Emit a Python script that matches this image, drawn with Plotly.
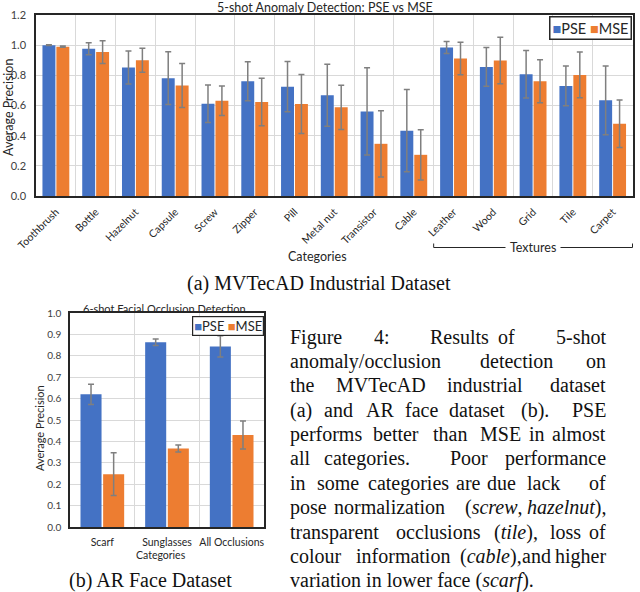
import plotly.graph_objects as go

# ---------------- data ----------------
categories_a = ["Toothbrush", "Bottle", "Hazelnut", "Capsule", "Screw", "Zipper", "Pill",
                "Metal nut", "Transistor", "Cable", "Leather", "Wood", "Grid", "Tile", "Carpet"]
pse_a = [1.000, 0.976, 0.852, 0.781, 0.612, 0.761, 0.725, 0.668, 0.561, 0.433, 0.985, 0.856, 0.807, 0.730, 0.634]
pse_a_err = [0.002, 0.040, 0.110, 0.175, 0.124, 0.129, 0.167, 0.205, 0.290, 0.273, 0.040, 0.128, 0.157, 0.132, 0.228]
mse_a = [0.990, 0.954, 0.900, 0.732, 0.632, 0.623, 0.610, 0.588, 0.346, 0.273, 0.912, 0.898, 0.761, 0.803, 0.479]
mse_a_err = [0.004, 0.075, 0.080, 0.146, 0.098, 0.157, 0.195, 0.147, 0.220, 0.167, 0.108, 0.154, 0.142, 0.152, 0.157]

categories_b = ["Scarf", "Sunglasses", "All Occlusions"]
pse_b = [0.620, 0.863, 0.844]
pse_b_err = [0.047, 0.015, 0.050]
mse_b = [0.247, 0.367, 0.430]
mse_b_err = [0.100, 0.016, 0.065]

yticks_a = [0.0, 0.2, 0.4, 0.6, 0.8, 1.0, 1.2]
yticks_b = [0.0, 0.1, 0.2, 0.3, 0.4, 0.5, 0.6, 0.7, 0.8, 0.9, 1.0]

# ---------------- style ----------------
W, H = 640, 592
BLUE = "#4472C4"
ORANGE = "#ED7D31"
ERR = "#7F7F7F"
GRID = "#D9D9D9"
FRAME = "#262626"
TXT = "#262626"
SANS = "Lato, 'Open Sans', sans-serif"
SERIF = "'Liberation Serif', 'DejaVu Serif', serif"
CAP_SIZE = 20


def fx(px):
    return px / W


def fy(py):
    return 1 - py / H


fig = go.Figure()

def add_pair(cats, pse, pse_err, mse, mse_err, xa, ya, cap):
    err_style = dict(type="data", color=ERR, thickness=1.5, width=cap)
    fig.add_trace(go.Bar(x=cats, y=pse, name="PSE", marker_color=BLUE,
                         error_y=dict(array=pse_err, **err_style),
                         xaxis=xa, yaxis=ya, showlegend=False))
    fig.add_trace(go.Bar(x=cats, y=mse, name="MSE", marker_color=ORANGE,
                         error_y=dict(array=mse_err, **err_style),
                         xaxis=xa, yaxis=ya, showlegend=False))

add_pair(categories_a, pse_a, pse_a_err, mse_a, mse_a_err, "x", "y", 3)
add_pair(categories_b, pse_b, pse_b_err, mse_b, mse_b_err, "x2", "y2", 3)

common_x = dict(type="category", tickson="boundaries", showgrid=True, gridcolor=GRID,
                gridwidth=1, ticks="", showline=True, linecolor=FRAME, linewidth=1.5,
                mirror=True, zeroline=False, automargin=False)
common_y = dict(showgrid=True, gridcolor=GRID, gridwidth=1, ticks="", showline=True,
                linecolor=FRAME, linewidth=1.5, mirror=True, zeroline=False,
                tickformat=".1f", automargin=False)

fig.update_layout(
    template="none",
    width=W, height=H, margin=dict(l=0, r=0, t=0, b=0, autoexpand=False),
    paper_bgcolor="white", plot_bgcolor="white",
    barmode="group", bargap=0.30, bargroupgap=0.07,
    font=dict(family=SANS, color=TXT),
    xaxis=dict(domain=[fx(36), fx(633)], anchor="y", tickangle=-45,
               tickfont=dict(size=10.5, color=TXT), ticklabelstandoff=4, **common_x),
    yaxis=dict(domain=[fy(196), fy(15)], anchor="x", range=[0, 1.2], tickvals=yticks_a,
               tickfont=dict(size=11, color="#404040"), ticklabelstandoff=6, **common_y),
    xaxis2=dict(domain=[fx(70), fx(264)], anchor="y2", tickangle=0,
                tickfont=dict(size=10.5, color=TXT), ticklabelstandoff=5, **common_x),
    yaxis2=dict(domain=[fy(527), fy(313)], anchor="x2", range=[0, 1.0], tickvals=yticks_b,
                tickfont=dict(size=10, color="#404040"), ticklabelstandoff=5, **common_y),
)

ann = []

def label(text, x, y, size, family=SANS, angle=0, **kw):
    d = dict(text=text, x=fx(x), y=fy(y), xref="paper", yref="paper", showarrow=False,
             font=dict(size=size, family=family, color=kw.pop("color", TXT)),
             textangle=angle, xanchor=kw.pop("xanchor", "center"),
             yanchor=kw.pop("yanchor", "middle"))
    d.update(kw)
    ann.append(d)

# chart titles and axis titles
label("5-shot Anomaly Detection: PSE vs MSE", 325, 7, 12.5)
label("Average Precision", 8, 108, 12.5, angle=-90)
label("Categories", 317, 256, 12.5)
label("6-shot Facial Occlusion Detection", 164, 308, 11)
label("Average Precision", 39, 428, 11, angle=-90)
label("Categories", 161, 555, 10.5)

# legends (compact, as in the original)
leg = ("<span style='color:%s'>■</span>PSE <span style='color:%s'>■</span>MSE" % (BLUE, ORANGE))
label(leg, 632, 16.5, 14.5, xanchor="right", yanchor="top", bordercolor=FRAME,
      borderwidth=1.5, borderpad=2, bgcolor="white")
label(leg, 263.5, 315.5, 13, xanchor="right", yanchor="top", bordercolor=FRAME,
      borderwidth=1.2, borderpad=1, bgcolor="white")

# Textures bracket (spans Leather..Carpet categories)
tex_lo, tex_hi = categories_a.index("Leather") - 0.5, categories_a.index("Carpet") + 0.5
shapes = [
    dict(type="line", xref="x", yref="paper", x0=tex_lo, x1=tex_hi, y0=fy(247.5), y1=fy(247.5),
         line=dict(color=FRAME, width=1)),
    dict(type="line", xref="x", yref="paper", x0=tex_lo, x1=tex_lo, y0=fy(247.5), y1=fy(243.5),
         line=dict(color=FRAME, width=1)),
    dict(type="line", xref="x", yref="paper", x0=tex_hi, x1=tex_hi, y0=fy(247.5), y1=fy(243.5),
         line=dict(color=FRAME, width=1)),
]
ann.append(dict(text="Textures", x="Grid", xref="x", y=fy(248), yref="paper", showarrow=False,
                font=dict(size=12.5, family=SANS, color=TXT), bgcolor="white", borderpad=4,
                xanchor="center", yanchor="middle"))

# sub-captions
label("(a) MVTecAD Industrial Dataset", 319, 283, CAP_SIZE, family=SERIF, color="#111111")
label("(b) AR Face Dataset", 150, 580, CAP_SIZE, family=SERIF, color="#111111")

# figure caption (justified block)
caption_lines = [
    (337, ["Figure", "4:", "Results", "of", "5-shot"], [288, 372, 428, 496]),
    (361, ["anomaly/occlusion", "detection", "on"], [288, 478]),
    (385, ["the", "MVTecAD", "industrial", "dataset"], [288, 334, 445]),
    (410, ["(a)", "and", "AR", "face", "dataset", "(b).", "PSE"], [288, 322, 364, 403, 447, 519]),
    (434, ["performs", "better", "than", "MSE", "in", "almost"], [288, 371, 431, 478, 527]),
    (458, ["all", "categories.", "Poor", "performance"], [288, 322, 448]),
    (483, ["in", "some", "categories", "are", "due", "lack", "of"], [288, 315, 366, 454, 485, 525]),
    (507, ["pose", "normalization", "(<i>screw</i>,", "<i>hazelnut</i>),"], [288, 332, 463]),
    (532, ["transparent", "occlusions", "(<i>tile</i>),", "loss", "of"], [288, 394, 492, 548]),
    (556, ["colour", "information", "(<i>cable</i>),", "and", "higher"], [288, 354, 458, 520]),
]
for y, words, lefts in caption_lines:
    for w, x in zip(words[:-1], lefts):
        label(w, x, y, CAP_SIZE, family=SERIF, xanchor="left", color="#111111")
    label(words[-1], 608, y, CAP_SIZE, family=SERIF, xanchor="right", color="#111111")
label("variation in lower face (<i>scarf</i>).", 288, 580, CAP_SIZE, family=SERIF,
      xanchor="left", color="#111111")

fig.update_layout(annotations=ann, shapes=shapes)
fig.write_html("out.html", config={"displayModeBar": False},
               post_script="document.body.style.margin='0';document.body.style.overflow='hidden';")
